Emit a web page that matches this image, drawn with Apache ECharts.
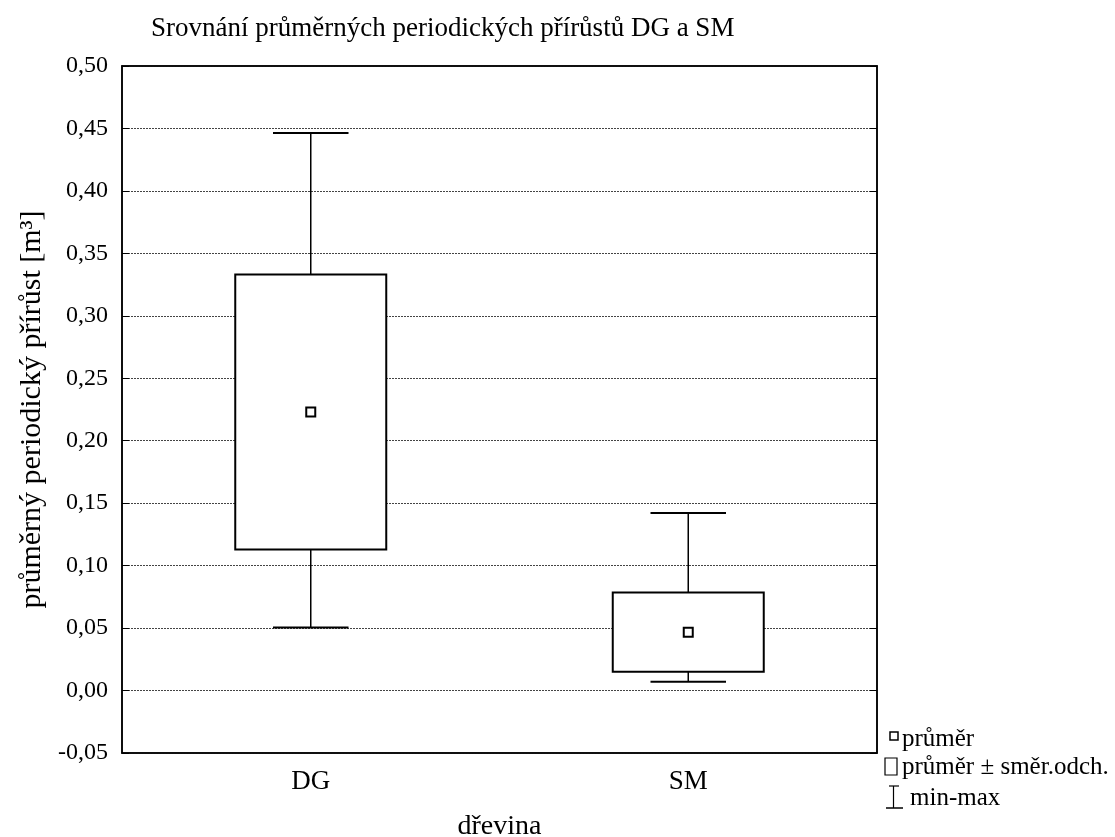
<!DOCTYPE html>
<html>
<head>
<meta charset="utf-8">
<script src="https://cdn.jsdelivr.net/npm/echarts@6/dist/echarts.min.js"></script>
<style>html,body{margin:0;padding:0;background:#fff}#c{width:1115px;height:837px}</style>
</head>
<body>
<div id="c"></div>
<script>
var categories = ['DG', 'SM'];
var means = [0.223, 0.0467];
var sds = [0.110, 0.0317];
var mins = [0.0505, 0.0070];
var maxs = [0.4464, 0.1422];
var yTicks = [-0.05, 0.5, 0.05];

var FONT = '"Liberation Serif", "Times New Roman", serif';
var chart = echarts.init(document.getElementById('c'), null, {renderer: 'canvas'});

var data = categories.map(function (c, i) {
  return [i, means[i], sds[i], mins[i], maxs[i]];
});

function renderItem(params, api) {
  var i = api.value(0), m = api.value(1), sd = api.value(2), mn = api.value(3), mx = api.value(4);
  var band = api.size([1, 0])[0];
  var boxW = band * 0.4, capW = band * 0.2;
  var pTop = api.coord([i, m + sd]), pBot = api.coord([i, m - sd]);
  var pMin = api.coord([i, mn]), pMax = api.coord([i, mx]), pMean = api.coord([i, m]);
  var cx = pTop[0];
  var lineStyle = {stroke: '#000', lineWidth: 1.5, fill: null};
  return {
    type: 'group',
    children: [
      {type: 'line', shape: {x1: cx, y1: pMax[1], x2: cx, y2: pMin[1]}, style: lineStyle},
      {type: 'line', shape: {x1: cx - capW / 2, y1: pMax[1], x2: cx + capW / 2, y2: pMax[1]}, style: {stroke: '#000', lineWidth: 2}},
      {type: 'line', shape: {x1: cx - capW / 2, y1: pMin[1], x2: cx + capW / 2, y2: pMin[1]}, style: {stroke: '#000', lineWidth: 2}},
      {type: 'rect', shape: {x: cx - boxW / 2, y: pTop[1], width: boxW, height: pBot[1] - pTop[1]}, style: {fill: '#fff', stroke: '#000', lineWidth: 2}},
      {type: 'rect', shape: {x: pMean[0] - 4.5, y: pMean[1] - 4.5, width: 9, height: 9}, style: {fill: '#fff', stroke: '#000', lineWidth: 2}}
    ]
  };
}

var option = {
  backgroundColor: '#fff',
  animation: false,
  title: {
    text: 'Srovnání průměrných periodických přírůstů DG a SM',
    left: 146, top: 10,
    textStyle: {fontFamily: FONT, fontSize: 27, fontWeight: 'normal', color: '#000'}
  },
  grid: {left: 122, top: 66, width: 755, height: 687, show: true, borderColor: '#000', borderWidth: 1.5,
    backgroundColor: 'transparent', containLabel: false, outerBoundsMode: 'none'},
  xAxis: [{
    type: 'category', data: categories,
    name: 'dřevina', nameLocation: 'middle', nameGap: 60,
    nameTextStyle: {fontFamily: FONT, fontSize: 28, color: '#000'},
    axisLine: {onZero: false, lineStyle: {color: '#000', width: 1.5}},
    axisTick: {inside: true, alignWithLabel: true, length: 6, lineStyle: {color: '#000'}},
    axisLabel: {fontFamily: FONT, fontSize: 27, color: '#000', margin: 15},
    splitLine: {show: false}
  }, {
    type: 'category', data: categories, position: 'top',
    axisLine: {onZero: false, lineStyle: {color: '#000', width: 1.5}},
    axisTick: {inside: true, alignWithLabel: true, length: 6, lineStyle: {color: '#000'}},
    axisLabel: {show: false}
  }],
  yAxis: [{
    type: 'value', min: yTicks[0], max: yTicks[1], interval: yTicks[2],
    name: 'průměrný periodický přírůst [m³]', nameLocation: 'middle', nameGap: 74, nameRotate: 90,
    nameTextStyle: {fontFamily: FONT, fontSize: 30, color: '#000'},
    axisLine: {show: true, onZero: false, lineStyle: {color: '#000', width: 1.5}},
    axisTick: {show: true, inside: true, length: 7, lineStyle: {color: '#000'}},
    axisLabel: {fontFamily: FONT, fontSize: 24, color: '#000', margin: 14,
      formatter: function (v) { return v.toFixed(2).replace('.', ','); }},
    splitLine: {show: true, lineStyle: {color: '#444', width: 1, type: [2, 1]}}
  }, {
    type: 'value', min: yTicks[0], max: yTicks[1], interval: yTicks[2], position: 'right',
    axisLine: {show: true, onZero: false, lineStyle: {color: '#000', width: 1.5}},
    axisTick: {show: true, inside: true, length: 7, lineStyle: {color: '#000'}},
    axisLabel: {show: false}, splitLine: {show: false}
  }],
  series: [{
    type: 'custom', renderItem: renderItem, data: data, xAxisIndex: 0, yAxisIndex: 0,
    encode: {x: 0, y: [1, 3, 4]}, z: 3
  }],
  graphic: [
    {type: 'rect', shape: {x: 890, y: 732, width: 8, height: 8}, style: {fill: '#fff', stroke: '#000', lineWidth: 1.5}},
    {type: 'text', x: 902, y: 739, style: {text: 'průměr', font: '25px ' + FONT, fill: '#000', textVerticalAlign: 'middle'}},
    {type: 'rect', shape: {x: 885, y: 758, width: 12, height: 17}, style: {fill: '#fff', stroke: '#000', lineWidth: 1.2}},
    {type: 'text', x: 902, y: 767, style: {text: 'průměr ± směr.odch.', font: '25px ' + FONT, fill: '#000', textVerticalAlign: 'middle'}},
    {type: 'line', shape: {x1: 889, y1: 786, x2: 899, y2: 786}, style: {stroke: '#000', lineWidth: 1.2}},
    {type: 'line', shape: {x1: 893.5, y1: 786, x2: 893.5, y2: 808}, style: {stroke: '#000', lineWidth: 1.2}},
    {type: 'line', shape: {x1: 886, y1: 808, x2: 903, y2: 808}, style: {stroke: '#000', lineWidth: 1.5}},
    {type: 'text', x: 910, y: 798, style: {text: 'min-max', font: '25px ' + FONT, fill: '#000', textVerticalAlign: 'middle'}}
  ]
};
chart.setOption(option);
</script>
</body>
</html>
